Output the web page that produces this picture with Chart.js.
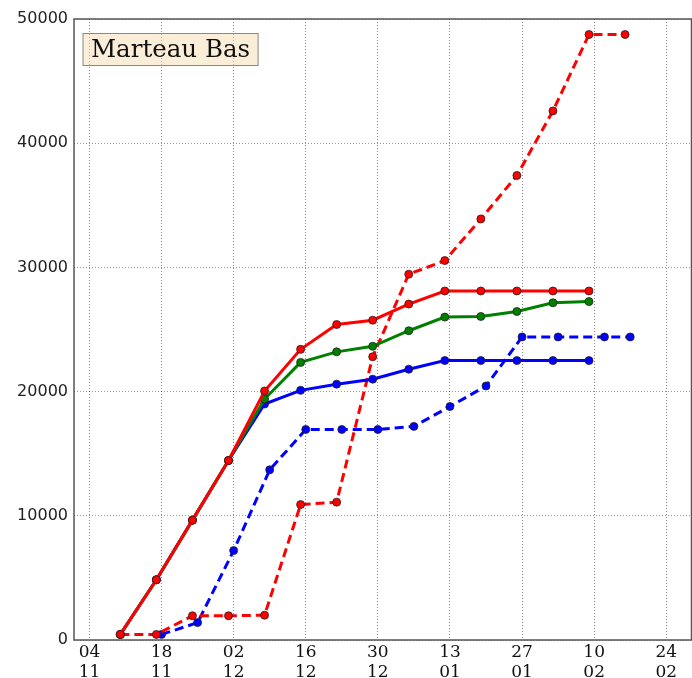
<!DOCTYPE html>
<html>
<head>
<meta charset="utf-8">
<script src="https://cdn.jsdelivr.net/npm/chart.js@4/dist/chart.umd.min.js"></script>
<style>
html,body{margin:0;padding:0;background:#fff;}
#wrap{width:692px;height:678px;position:relative;}
</style>
</head>
<body>
<div id="wrap"><canvas id="c" width="692" height="678"></canvas></div>
<script>
// ---- data (days counted from 04/11) ----
const title = "Marteau Bas";
const tickDays = [0, 14, 28, 42, 56, 70, 84, 98, 112];
const tickLabels = [["04","11"],["18","11"],["02","12"],["16","12"],["30","12"],["13","01"],["27","01"],["10","02"],["24","02"]];
const yTicks = [0, 10000, 20000, 30000, 40000, 50000];

const solidDays = [6, 13, 20, 27, 34, 41, 48, 55, 62, 69, 76, 83, 90, 97];
const redSolid   = [450, 4850, 9650, 14450, 20050, 23400, 25400, 25750, 27050, 28100, 28100, 28100, 28100, 28100];
const greenSolid = [450, 4850, 9650, 14450, 19400, 22350, 23200, 23650, 24900, 26000, 26050, 26450, 27150, 27250];
const blueSolid  = [450, 4850, 9650, 14450, 19000, 20100, 20600, 21000, 21800, 22500, 22500, 22500, 22500, 22500];

const redDashDays = [6, 13, 20, 27, 34, 41, 48, 55, 62, 69, 76, 83, 90, 97, 104];
const redDash     = [450, 450, 1950, 1950, 2000, 10900, 11100, 22800, 29450, 30550, 33900, 37400, 42600, 48750, 48750];

const blueDashDays = [14, 21, 28, 35, 42, 49, 56, 63, 70, 77, 84, 91, 100, 105];
const blueDash     = [450, 1400, 7200, 13700, 16950, 16950, 16950, 17200, 18800, 20450, 24400, 24400, 24400, 24400];

function pts(xs, ys){ return xs.map((x,i)=>({x:x, y:ys[i]})); }

function ds(label, xs, ys, color, dashed, order){
  return {
    label: label,
    data: pts(xs, ys),
    borderColor: color,
    backgroundColor: color,
    borderWidth: 3,
    borderDash: dashed ? [9,5] : [],
    pointRadius: 4,
    pointBorderWidth: 0.8,
    pointBorderColor: '#222',
    pointBackgroundColor: color,
    tension: 0,
    order: order,
    clip: false
  };
}

const framePlugin = {
  id: 'frame',
  afterDraw(chart){
    const a = chart.chartArea, ctx = chart.ctx;
    ctx.save();
    ctx.strokeStyle = '#555';
    ctx.lineWidth = 1.5;
    ctx.strokeRect(a.left, a.top, a.right - a.left - 0.5, a.bottom - a.top);
    // title box
    ctx.font = '24.5px "DejaVu Serif"';
    const tw = ctx.measureText(title).width;
    const bx = a.left + 9, by = a.top + 14.5, bh = 32, bw = tw + 16;
    ctx.fillStyle = 'rgba(245,222,179,0.5)';
    ctx.fillRect(bx, by, bw, bh);
    ctx.strokeStyle = '#888';
    ctx.lineWidth = 1;
    ctx.strokeRect(bx, by, bw, bh);
    ctx.fillStyle = '#111';
    ctx.textBaseline = 'middle';
    ctx.textAlign = 'left';
    ctx.fillText(title, bx + 8, by + bh/2 + 1);
    ctx.restore();
  }
};

new Chart(document.getElementById('c'), {
  type: 'line',
  data: {
    datasets: [
      ds('rouge', solidDays, redSolid, '#ff0000', false, 1),
      ds('vert', solidDays, greenSolid, '#008000', false, 2),
      ds('bleu', solidDays, blueSolid, '#0000ff', false, 3),
      ds('rouge prévision', redDashDays, redDash, '#ff0000', true, 4),
      ds('bleu prévision', blueDashDays, blueDash, '#0000ff', true, 5)
    ]
  },
  options: {
    responsive: false,
    animation: false,
    layout: { autoPadding: false, padding: { top: 19, right: 0, left: 0, bottom: 0 } },
    plugins: { legend: { display: false }, tooltip: { enabled: false } },
    scales: {
      x: {
        type: 'linear',
        min: -3, max: 117,
        afterBuildTicks(scale){ scale.ticks = tickDays.map(v => ({ value: v })); },
        afterFit(scale){ scale.height = 38; scale.paddingLeft = 0; scale.paddingRight = 0; },
        ticks: {
          autoSkip: false,
          maxRotation: 0,
          padding: 3,
          color: '#111',
          font: { family: '"DejaVu Serif"', size: 17, lineHeight: 1.17 },
          callback(v){ const i = tickDays.indexOf(v); return i >= 0 ? tickLabels[i] : ''; }
        },
        grid: { color: 'rgba(0,0,0,0.45)', lineWidth: 1, drawTicks: false, tickLength: 0 },
        border: { display: false, dash: [1,2] }
      },
      y: {
        type: 'linear',
        min: 0, max: 50000,
        afterBuildTicks(scale){ scale.ticks = yTicks.map(v => ({ value: v })); },
        afterFit(scale){ scale.width = 74; },
        ticks: {
          padding: 6,
          color: '#222',
          font: { family: '"DejaVu Sans"', size: 16 },
          callback(v){ return String(v); }
        },
        grid: { color: 'rgba(0,0,0,0.4)', lineWidth: 1, drawTicks: false, tickLength: 0 },
        border: { display: false, dash: [1,2] }
      }
    }
  },
  plugins: [framePlugin]
});
</script>
</body>
</html>
